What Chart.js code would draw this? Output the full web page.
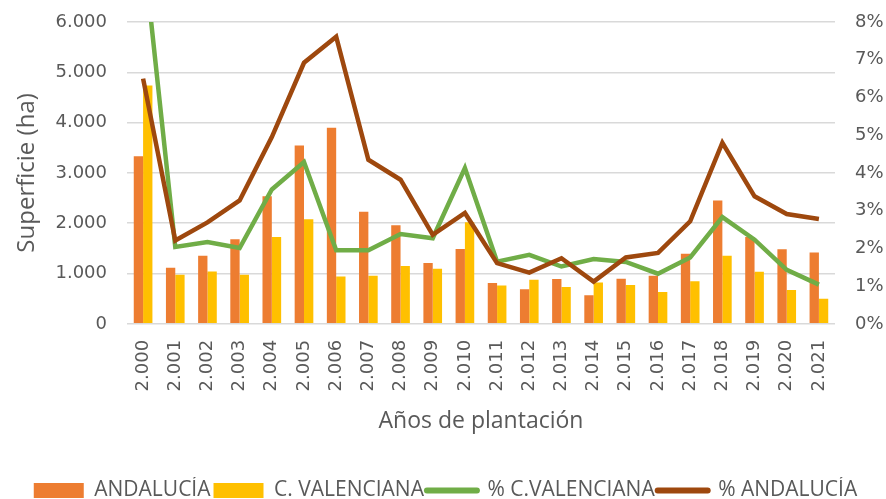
<!DOCTYPE html>
<html>
<head>
<meta charset="utf-8">
<script src="https://cdn.jsdelivr.net/npm/chart.js@4"></script>
<style>
  body { margin: 0; background: #fff; }
  #wrap { width: 886px; height: 499px; }
</style>
</head>
<body>
<div id="wrap"><canvas id="grafico" width="886" height="499"></canvas></div>
<script>
// años de plantación
var anios = ["2.000", "2.001", "2.002", "2.003", "2.004", "2.005", "2.006", "2.007", "2.008", "2.009", "2.010",
             "2.011", "2.012", "2.013", "2.014", "2.015", "2.016", "2.017", "2.018", "2.019", "2.020", "2.021"];

// superficie (ha)
var supAndalucia = [3330, 1115, 1355, 1680, 2535, 3545, 3900, 2230, 1960, 1210, 1490,
                    810, 690, 890, 570, 895, 955, 1395, 2450, 1725, 1485, 1420];
var supValenciana = [4740, 975, 1040, 975, 1725, 2080, 940, 955, 1150, 1095, 2020,
                     765, 875, 735, 820, 775, 635, 845, 1355, 1035, 675, 500];

// porcentajes (%)
var pctValenciana = [10.0, 2.04, 2.17, 2.01, 3.56, 4.29, 1.95, 1.95, 2.38, 2.27, 4.13,
                     1.65, 1.83, 1.52, 1.72, 1.64, 1.33, 1.76, 2.83, 2.23, 1.43, 1.04];
var pctAndalucia = [6.50, 2.21, 2.69, 3.27, 4.95, 6.92, 7.61, 4.35, 3.82, 2.36, 2.94,
                    1.61, 1.36, 1.74, 1.12, 1.76, 1.88, 2.72, 4.80, 3.38, 2.91, 2.78];

var gris = "#595959";
var fuenteTick = "'DejaVu Sans', sans-serif";
var fuenteTexto = "'Open Sans', sans-serif";

// ancho fijo de los ejes verticales y sin margen extra arriba/abajo
function fijarEje(ancho) {
    return function (s) {
        s.width = ancho;
        s.paddingTop = 0;
        s.paddingBottom = 0;
    };
}

var data = {
    labels: anios,
    datasets: [
        {
            type: 'bar',
            label: 'ANDALUCÍA',
            data: supAndalucia,
            backgroundColor: '#ED7D31',
            yAxisID: 'y',
            order: 2
        },
        {
            type: 'bar',
            label: 'C. VALENCIANA',
            data: supValenciana,
            backgroundColor: '#FFC000',
            yAxisID: 'y',
            order: 2
        },
        {
            type: 'line',
            label: '% C.VALENCIANA',
            data: pctValenciana,
            borderColor: '#70AD47',
            backgroundColor: '#70AD47',
            borderWidth: 4.5,
            pointRadius: 0,
            tension: 0,
            yAxisID: 'y1',
            order: 1
        },
        {
            type: 'line',
            label: '% ANDALUCÍA',
            data: pctAndalucia,
            borderColor: '#9E480E',
            backgroundColor: '#9E480E',
            borderWidth: 4.5,
            pointRadius: 0,
            tension: 0,
            yAxisID: 'y1',
            order: 0
        }
    ]
};

var config = {
    type: 'bar',
    data: data,
    options: {
        responsive: false,
        animation: false,
        layout: { padding: { left: 5, right: 0, top: 22, bottom: -12 } },
        datasets: {
            bar: { categoryPercentage: 0.58, barPercentage: 1.0 }
        },
        scales: {
            x: {
                grid: { display: false, drawTicks: false },
                border: { display: false },
                ticks: {
                    minRotation: 90, maxRotation: 90, padding: 16,
                    color: gris, font: { family: fuenteTick, size: 18 }
                },
                title: {
                    display: true, text: 'Años de plantación', color: gris,
                    font: { family: fuenteTexto, size: 23 },
                    padding: { top: 0, bottom: 42 }
                }
            },
            y: {
                position: 'left',
                min: 0, max: 6000,
                afterFit: fijarEje(122),
                grid: { color: '#D9D9D9', lineWidth: 1.5, drawTicks: false },
                border: { display: false },
                ticks: {
                    stepSize: 1000, padding: 20, color: gris,
                    font: { family: fuenteTick, size: 18 },
                    callback: function (v) { return v === 0 ? '0' : (v / 1000).toFixed(3); }
                },
                title: {
                    display: true, text: 'Superficie (ha)', color: gris,
                    font: { family: fuenteTexto, size: 24 }, padding: { top: 8 }
                }
            },
            y1: {
                position: 'right',
                min: 0, max: 8,
                afterFit: fijarEje(51),
                grid: { display: false, drawTicks: false },
                border: { display: false },
                ticks: {
                    stepSize: 1, padding: 20, color: gris,
                    font: { family: fuenteTick, size: 18 },
                    callback: function (v) { return v + '%'; }
                }
            }
        },
        plugins: {
            tooltip: { enabled: false },
            legend: {
                position: 'bottom',
                labels: {
                    color: gris,
                    font: { family: fuenteTexto, size: 21 },
                    usePointStyle: true,
                    pointStyleWidth: 50,
                    boxHeight: 15,
                    padding: 3,
                    generateLabels: function (chart) {
                        return chart.data.datasets.map(function (ds, i) {
                            var esLinea = ds.type === 'line';
                            return {
                                text: ds.label,
                                fillStyle: ds.backgroundColor,
                                strokeStyle: esLinea ? ds.borderColor : ds.backgroundColor,
                                lineWidth: esLinea ? 6 : 0,
                                lineCap: 'round',
                                pointStyle: esLinea ? 'line' : 'rect',
                                fontColor: gris,
                                hidden: false,
                                datasetIndex: i
                            };
                        });
                    }
                }
            }
        }
    }
};

new Chart(document.getElementById('grafico'), config);
</script>
</body>
</html>
